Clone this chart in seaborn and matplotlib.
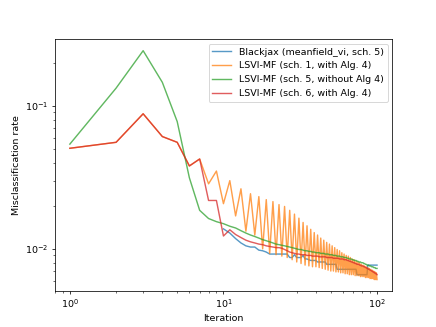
import matplotlib
matplotlib.use("Agg")
import matplotlib.pyplot as plt
import seaborn as sns
import pandas as pd

iterations = list(range(1, 101))

series_names = [
    "Blackjax (meanfield_vi, sch. 5)",
    "LSVI-MF (sch. 1, with Alg. 4)",
    "LSVI-MF (sch. 5, without Alg 4)",
    "LSVI-MF (sch. 6, with Alg. 4)",
]

# Blackjax curve is only visible from iteration 10 on
blackjax_start = 10
blackjax = [0.0138, 0.0129, 0.0118, 0.0110, 0.0105, 0.0103, 0.0103, 0.0098, 0.0097, 0.0095, 0.0092,
            0.0092, 0.0092, 0.0092, 0.0092, 0.0092, 0.0092, 0.0087, 0.0087, 0.0091, 0.0087,
            0.0087, 0.0087, 0.0090, 0.0085, 0.0085, 0.0084, 0.0083, 0.0083, 0.0083, 0.0083,
            0.0081, 0.0081, 0.0081, 0.0081, 0.0081, 0.0081,
            0.0078, 0.0078, 0.0078, 0.0078, 0.0078, 0.0078, 0.0078, 0.0078] \
    + [0.0072] * 19 + [0.0066] * 13 + [0.0077] * 14

lsvi_sch1 = [0.0505, 0.0556, 0.088, 0.061, 0.0556, 0.038, 0.0425, 0.0285, 0.035, 0.0207,
             0.030, 0.0170, 0.0263, 0.0133, 0.0243, 0.0125, 0.0232, 0.0100, 0.0221, 0.0093,
             0.0214, 0.0091, 0.0204, 0.0089, 0.0198, 0.0087, 0.0186, 0.0084, 0.0175, 0.0081,
             0.0164, 0.0079, 0.0153, 0.0077, 0.0145, 0.0076, 0.0137, 0.0075, 0.0130, 0.0075,
             0.0125, 0.0074, 0.0119, 0.0073, 0.0115, 0.0072, 0.0111, 0.0071, 0.0108, 0.0070,
             0.0105, 0.0070, 0.0102, 0.0069, 0.0099, 0.0069, 0.0097, 0.0068, 0.0094, 0.0068,
             0.0092, 0.0067, 0.0090, 0.0067, 0.0089, 0.0066, 0.0087, 0.0066, 0.0085, 0.0066,
             0.0084, 0.0065, 0.0082, 0.0065, 0.0081, 0.0065, 0.0080, 0.0064, 0.0078, 0.0064,
             0.0077, 0.0064, 0.0076, 0.0063, 0.0075, 0.0063, 0.0074, 0.0063, 0.0073, 0.0062,
             0.0072, 0.0062, 0.0071, 0.0062, 0.0070, 0.0061, 0.0069, 0.0061, 0.0068, 0.0061]

lsvi_sch5 = [0.054, 0.133, 0.243, 0.146, 0.0776, 0.0314, 0.0186, 0.0163, 0.0155, 0.0150,
             0.0144, 0.0140, 0.0134, 0.0129, 0.0125, 0.0122, 0.0119, 0.0116, 0.0114, 0.0112,
             0.0110, 0.0108, 0.0107, 0.0106, 0.0105, 0.0104, 0.0103, 0.0102, 0.0101, 0.0100,
             0.0099, 0.0099, 0.0098, 0.0097, 0.0097, 0.0096, 0.0096, 0.0095, 0.0095, 0.0094,
             0.0094, 0.0094, 0.0093, 0.0093, 0.0093, 0.0092, 0.0092, 0.0092, 0.0091, 0.0091,
             0.0091, 0.0090, 0.0090, 0.0090, 0.0089, 0.0089, 0.0089, 0.0088, 0.0088, 0.0088,
             0.0087, 0.0087, 0.0087, 0.0086, 0.0086, 0.0085, 0.0085, 0.0085, 0.0084, 0.0084,
             0.0083, 0.0083, 0.0083, 0.0082, 0.0082, 0.0081, 0.0081, 0.0081, 0.0080, 0.0080,
             0.0080, 0.0079, 0.0079, 0.0078, 0.0078, 0.0077, 0.0077, 0.0077, 0.0076, 0.0076,
             0.0076, 0.0075, 0.0075, 0.0075, 0.0074, 0.0074, 0.0074, 0.0073, 0.0073, 0.0073]

lsvi_sch6 = [0.0505, 0.0556, 0.088, 0.061, 0.0556, 0.038, 0.0425, 0.0218, 0.0218, 0.0123,
             0.0136, 0.0126, 0.0120, 0.0115, 0.0112, 0.0110, 0.0108, 0.0107, 0.0105, 0.0104,
             0.0103, 0.0102, 0.0102, 0.0101, 0.0099, 0.0097, 0.0095, 0.0094, 0.0093, 0.0092,
             0.0092, 0.0091, 0.0091, 0.0091, 0.0090, 0.0090, 0.0090, 0.0089, 0.0089, 0.0089,
             0.0089, 0.0088, 0.0088, 0.0088, 0.0088, 0.0088, 0.0087, 0.0087, 0.0087, 0.0087,
             0.0087, 0.0086, 0.0086, 0.0086, 0.0086, 0.0086, 0.0085, 0.0085, 0.0085, 0.0085,
             0.0084, 0.0084, 0.0084, 0.0083, 0.0083, 0.0082, 0.0082, 0.0081, 0.0081, 0.0080,
             0.0080, 0.0079, 0.0079, 0.0078, 0.0078, 0.0078, 0.0077, 0.0077, 0.0076, 0.0076,
             0.0076, 0.0075, 0.0075, 0.0074, 0.0074, 0.0073, 0.0073, 0.0072, 0.0072, 0.0071,
             0.0071, 0.0070, 0.0070, 0.0069, 0.0069, 0.0068, 0.0068, 0.0067, 0.0067, 0.0066]

all_series = [
    (iterations[blackjax_start - 1:], blackjax),
    (iterations, lsvi_sch1),
    (iterations, lsvi_sch5),
    (iterations, lsvi_sch6),
]

rows = []
for name, (its, vals) in zip(series_names, all_series):
    for it, v in zip(its, vals):
        rows.append({"Iteration": it, "rate": v, "method": name})
df = pd.DataFrame(rows)

palette = dict(zip(series_names, ["#1f77b4", "#ff7f0e", "#2ca02c", "#d62728"]))

fig, ax = plt.subplots(figsize=(6.4, 4.8), dpi=68.125)
sns.lineplot(data=df, x="Iteration", y="rate", hue="method", hue_order=series_names,
             palette=palette, estimator=None, linewidth=1.5, alpha=0.75, ax=ax)
ax.set_xscale("log")
ax.set_yscale("log")
ax.set_xlabel("Iteration")
ax.set_ylabel("Misclassification rate")
handles, labels = ax.get_legend_handles_labels()
for h in handles:
    h.set_alpha(0.75)
ax.legend(handles, labels, loc="upper right")
fig.savefig("out.png", dpi=68.125)
